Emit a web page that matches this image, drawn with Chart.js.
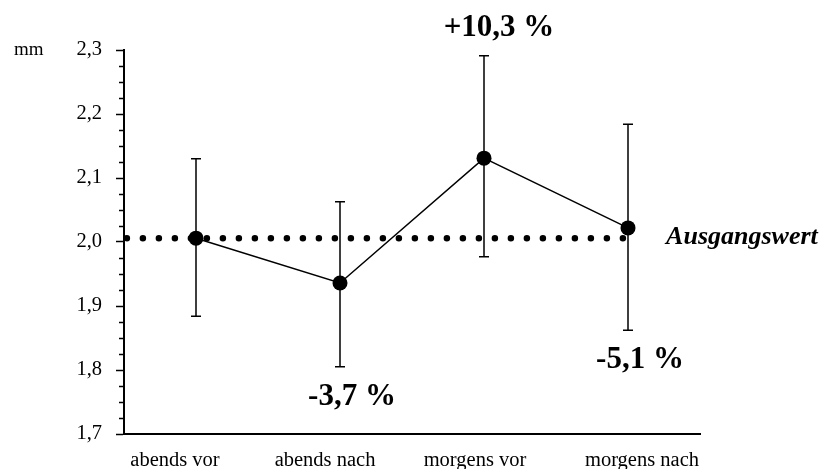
<!DOCTYPE html>
<html>
<head>
<meta charset="utf-8">
<script src="https://cdn.jsdelivr.net/npm/chart.js@4"></script>
<style>
html,body{margin:0;padding:0;background:#fff;}
#wrap{width:826px;height:469px;}
</style>
</head>
<body>
<div id="wrap"><canvas id="c" width="826" height="469"></canvas></div>
<script>
// ---- data ----
const categories = ['abends vor', 'abends nach', 'morgens vor', 'morgens nach'];
const means      = [2.006, 1.936, 2.131, 2.022];
const errUpper   = [2.130, 2.063, 2.291, 2.184];
const errLower   = [1.884, 1.805, 1.977, 1.862];
const changeLabels = ['', '-3,7 %', '+10,3 %', '-5,1 %'];
const baselineValue = 2.006;
const baselineLabel = 'Ausgangswert';
const unitLabel = 'mm';
const yMin = 1.7, yMax = 2.3, yStep = 0.1, yMinorStep = 0.025;

// ---- layout / style ----
const SERIF = '"Liberation Serif", "DejaVu Serif", serif';
const BASE_START = -0.48, BASE_END = 3.07;
const LABEL_SHIFT = [-0.146, -0.104, -0.0625, 0.097]; // category-unit shift of x tick labels

const errorBarPlugin = {
  id: 'errorBars',
  beforeDatasetsDraw(chart) {
    const {ctx, scales: {x, y}} = chart;
    ctx.save();
    ctx.strokeStyle = '#000';
    ctx.lineWidth = 1.5;
    for (let i = 0; i < means.length; i++) {
      const px = x.getPixelForValue(i);
      const top = y.getPixelForValue(errUpper[i]);
      const bot = y.getPixelForValue(errLower[i]);
      ctx.beginPath();
      ctx.moveTo(px, top); ctx.lineTo(px, bot);
      ctx.moveTo(px - 5, top); ctx.lineTo(px + 5, top);
      ctx.moveTo(px - 5, bot); ctx.lineTo(px + 5, bot);
      ctx.stroke();
    }
    ctx.restore();
  },
  afterDraw(chart) {
    const {ctx, scales: {x, y}} = chart;
    ctx.save();
    // minor ticks
    ctx.strokeStyle = '#000';
    ctx.lineWidth = 1.5;
    const left = chart.chartArea.left;
    for (let v = yMin; v <= yMax + 1e-9; v += yMinorStep) {
      const r = Math.round(v * 1000) / 1000;
      if (Math.abs(r * 10 - Math.round(r * 10)) < 1e-6) continue;
      const py = Math.round(y.getPixelForValue(r)) + 0.5;
      ctx.beginPath();
      ctx.moveTo(left - 5, py); ctx.lineTo(left, py);
      ctx.stroke();
    }
    // change labels
    ctx.fillStyle = '#000';
    ctx.font = 'bold 31px ' + SERIF;
    ctx.textAlign = 'center';
    ctx.textBaseline = 'middle';
    for (let i = 0; i < changeLabels.length; i++) {
      if (!changeLabels[i]) continue;
      const up = changeLabels[i].startsWith('+');
      const px = x.getPixelForValue(i) + (up ? 15 : 12);
      const py = up ? y.getPixelForValue(errUpper[i]) - 28 : y.getPixelForValue(errLower[i]) + 30;
      ctx.fillText(changeLabels[i], px, py);
    }
    // baseline label
    ctx.font = 'italic bold 26px ' + SERIF;
    ctx.textAlign = 'left';
    ctx.fillText(baselineLabel, x.getPixelForValue(BASE_END) + 28, y.getPixelForValue(baselineValue) - 1);
    // unit label
    ctx.font = '19px ' + SERIF;
    ctx.fillText(unitLabel, 14, y.getPixelForValue(yMax));
    ctx.restore();
  }
};

new Chart(document.getElementById('c'), {
  type: 'line',
  data: {
    datasets: [
      {
        label: 'Mittelwert',
        data: means.map((v, i) => ({x: i, y: v})),
        borderColor: '#000',
        backgroundColor: '#000',
        borderWidth: 1.5,
        pointRadius: 7.5,
        pointBackgroundColor: '#000',
        pointBorderWidth: 0,
        tension: 0,
        order: 0
      },
      {
        label: baselineLabel,
        data: [{x: BASE_START, y: baselineValue}, {x: BASE_END, y: baselineValue}],
        borderColor: '#000',
        borderWidth: 6.5,
        borderDash: [0, 16],
        borderCapStyle: 'round',
        pointRadius: 0,
        order: 1
      }
    ]
  },
  options: {
    responsive: false,
    animation: false,
    layout: {padding: {top: 50, right: 126, bottom: 0, left: 0}},
    plugins: {legend: {display: false}, tooltip: {enabled: false}},
    scales: {
      x: {
        type: 'linear',
        min: -0.5, max: 3.5,
        afterBuildTicks(scale) {
          scale.ticks = categories.map((c, i) => ({value: i + LABEL_SHIFT[i]}));
        },
        ticks: {
          color: '#000',
          font: {family: SERIF, size: 20.5},
          padding: 14,
          maxRotation: 0,
          autoSkip: false,
          callback: (v, i) => categories[i] ?? ''
        },
        grid: {display: false, drawTicks: false},
        border: {display: true, color: '#000', width: 2},
        afterFit(scale) { scale.height = 35; }
      },
      y: {
        min: yMin, max: yMax,
        ticks: {
          stepSize: yStep,
          color: '#000',
          font: {family: SERIF, size: 20.5},
          padding: 14,
          callback: (v) => (Math.round(v * 10) / 10).toFixed(1).replace('.', ',')
        },
        grid: {display: true, drawOnChartArea: false, drawTicks: true, tickLength: 8, tickColor: '#000', tickWidth: 1.5},
        border: {display: true, color: '#000', width: 2},
        afterFit(scale) { scale.width = 124; }
      }
    }
  },
  plugins: [errorBarPlugin]
});
</script>
</body>
</html>
